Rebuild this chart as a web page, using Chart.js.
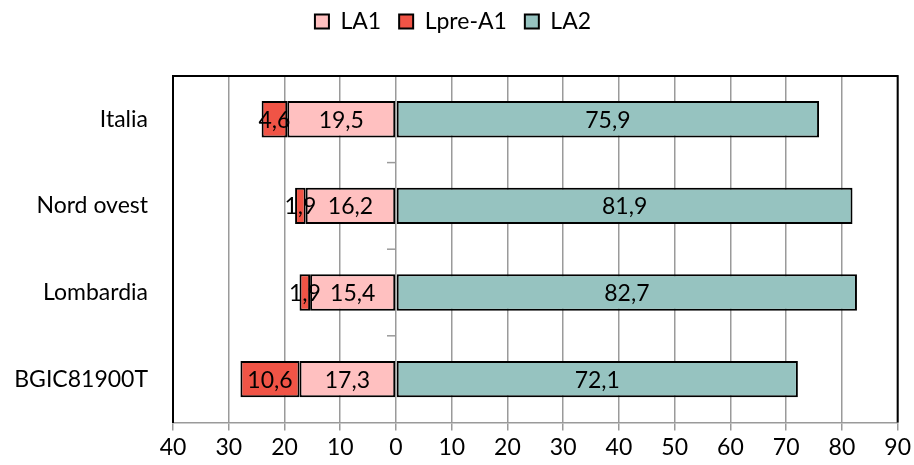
<!DOCTYPE html>
<html>
<head>
<meta charset="utf-8">
<script src="https://cdn.jsdelivr.net/npm/chart.js@4/dist/chart.umd.min.js"></script>
<style>
  html, body { margin: 0; padding: 0; background: #fff; }
  #wrap { width: 914px; height: 465px; }
</style>
</head>
<body>
<div id="wrap"><canvas id="barChart"></canvas></div>
<script>
const categories = ['Italia', 'Nord ovest', 'Lombardia', 'BGIC81900T'];
const la1 = [19.5, 16.2, 15.4, 17.3];
const lpreA1 = [4.6, 1.9, 1.9, 10.6];
const la2 = [75.9, 81.9, 82.7, 72.1];

const FONT = 'Lato, "Open Sans", sans-serif';
const GRID = '#9a9a9a';

// writes the value inside each bar, comma as decimal separator
const valueLabels = {
  id: 'valueLabels',
  afterDatasetsDraw(chart) {
    const ctx = chart.ctx;
    ctx.save();
    ctx.font = '23px ' + FONT;
    ctx.fillStyle = '#000';
    ctx.textAlign = 'center';
    ctx.textBaseline = 'middle';
    chart.data.datasets.forEach((ds, i) => {
      chart.getDatasetMeta(i).data.forEach((bar, j) => {
        const v = Math.abs(ds.data[j]);
        const x = (bar.x + bar.base) / 2;
        ctx.fillText(v.toFixed(1).replace('.', ','), x, bar.y + 1);
      });
    });
    ctx.restore();
  }
};

// frame on top/right and small category ticks along the zero line
const frame = {
  id: 'frame',
  beforeDatasetsDraw(chart) {
    const { ctx, scales } = chart;
    const x0 = scales.x.getPixelForValue(0);
    const n = categories.length;
    ctx.save();
    ctx.strokeStyle = GRID;
    ctx.lineWidth = 1.5;
    for (let i = 1; i < n; i++) {
      const y = (scales.y.getPixelForValue(i - 1) + scales.y.getPixelForValue(i)) / 2;
      ctx.beginPath();
      ctx.moveTo(x0 - 9, y);
      ctx.lineTo(x0, y);
      ctx.stroke();
    }
    ctx.restore();
  },
  afterDraw(chart) {
    const { ctx, chartArea: a } = chart;
    ctx.save();
    ctx.strokeStyle = '#000';
    ctx.lineWidth = 2;
    ctx.beginPath();
    ctx.moveTo(a.left, a.top);
    ctx.lineTo(a.right, a.top);
    ctx.lineTo(a.right, a.bottom);
    ctx.stroke();
    ctx.beginPath();
    ctx.moveTo(a.left, a.top);
    ctx.lineTo(a.left, a.bottom);
    ctx.stroke();
    ctx.restore();
  }
};

// extra room below the legend
const legendGap = {
  id: 'legendGap',
  beforeInit(chart) {
    const fit = chart.legend.fit;
    chart.legend.fit = function () {
      fit.bind(chart.legend)();
      this.height += 33;
    };
  }
};

new Chart(document.getElementById('barChart'), {
  type: 'bar',
  data: {
    labels: categories,
    datasets: [
      {
        label: 'LA1',
        data: la1.map(v => -v),
        backgroundColor: '#ffc0c0',
        borderColor: '#000',
        borderWidth: 2,
        borderSkipped: false
      },
      {
        label: 'Lpre-A1',
        data: lpreA1.map(v => -v),
        backgroundColor: '#f05446',
        borderColor: '#000',
        borderWidth: 2,
        borderSkipped: false
      },
      {
        label: 'LA2',
        data: la2,
        backgroundColor: '#96c3c0',
        borderColor: '#000',
        borderWidth: 2,
        borderSkipped: false
      }
    ]
  },
  options: {
    indexAxis: 'y',
    responsive: true,
    maintainAspectRatio: false,
    animation: false,
    layout: { padding: { top: -8, right: 8, left: 0, bottom: 1 } },
    datasets: { bar: { categoryPercentage: 1, barPercentage: 0.42 } },
    plugins: {
      tooltip: { enabled: false },
      legend: {
        position: 'top',
        labels: {
          font: { family: FONT, size: 23 },
          color: '#000',
          boxWidth: 14,
          boxHeight: 14,
          padding: 18
        }
      }
    },
    scales: {
      x: {
        stacked: true,
        min: -40,
        max: 90,
        ticks: {
          stepSize: 10,
          color: '#000',
          font: { family: FONT, size: 23 },
          padding: 3,
          callback: v => Math.abs(v)
        },
        grid: { color: GRID, lineWidth: 1.5, tickLength: 8, tickColor: GRID },
        border: { color: GRID, width: 1.5 }
      },
      y: {
        stacked: true,
        afterFit(scale) { scale.width = 173; },
        ticks: {
          color: '#000',
          font: { family: FONT, size: 23 },
          padding: 25
        },
        grid: { display: false, drawTicks: false },
        border: { color: '#000', width: 2 }
      }
    }
  },
  plugins: [valueLabels, frame, legendGap]
});
</script>
</body>
</html>
